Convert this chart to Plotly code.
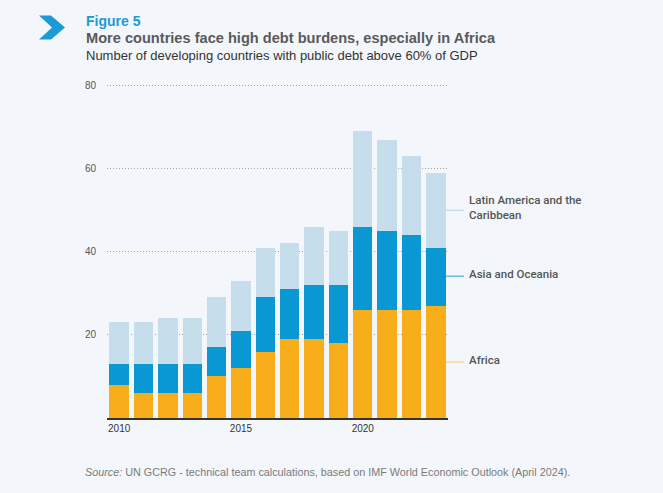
import plotly.graph_objects as go

years = list(range(2010, 2024))
africa = [8, 6, 6, 6, 10, 12, 16, 19, 19, 18, 26, 26, 26, 27]
asia_oceania = [5, 7, 7, 7, 7, 9, 13, 12, 13, 14, 20, 19, 18, 14]
latam_carib = [10, 10, 11, 11, 12, 12, 12, 11, 14, 13, 23, 22, 19, 18]

series_names = ["Africa", "Asia and Oceania", "Latin America and the<br>Caribbean"]
series_colors = ["#F8AE1B", "#0A98D5", "#C6DDEC"]
legend_line_colors = ["#F6D69C", "#6DBCE2", "#C6DDEC"]
y_ticks = [20, 40, 60, 80]
x_ticks = [2010, 2015, 2020]

W, H = 663, 493
L, R, B = 107, 448, 418
Y_TOP = 80.6
T = B - (B - 85) * Y_TOP / 80.0
BG = "#F3F7FB"

def px(x):
    return (x - L) / (R - L)

def py(y):
    return (B - y) / (B - T)

fig = go.Figure()
for vals, name, col in zip([africa, asia_oceania, latam_carib], series_names, series_colors):
    fig.add_trace(go.Bar(x=years, y=vals, name=name, marker=dict(color=col, line=dict(width=0)),
                         showlegend=False))

fig.update_layout(
    width=W, height=H,
    barmode="stack", bargap=0.2,
    paper_bgcolor=BG, plot_bgcolor=BG,
    margin=dict(l=L, r=W - R, t=T, b=H - B, pad=0),
    font=dict(family="Liberation Sans, Arial, sans-serif", color="#555555"),
    xaxis=dict(range=[2009.5, 2023.5], tickvals=x_ticks, ticktext=[str(v) for v in x_ticks],
               showgrid=False, showline=True, linecolor="#333333", linewidth=2,
               ticks="", tickfont=dict(size=10, color="#333333"), zeroline=False),
    yaxis=dict(range=[0, Y_TOP], tickvals=y_ticks, showgrid=True, gridcolor="#A3A3A3",
               griddash="1px,2px", gridwidth=1, zeroline=False, showline=False, ticks="",
               ticklabelstandoff=10, tickfont=dict(size=10, color="#555555")),
)

# Chevron icon
pts = [(39, 15), (51, 15), (65, 27), (51, 39), (39, 39), (52, 27)]
path = "M " + " L ".join(f"{px(a)},{py(b)}" for a, b in pts) + " Z"
fig.add_shape(type="path", path=path, xref="paper", yref="paper",
              fillcolor="#1B9AD6", line=dict(width=0), layer="above")

# Titles
fig.add_annotation(x=px(84), y=py(20), xref="paper", yref="paper", xanchor="left", yanchor="middle",
                   text="<b>Figure 5</b>", showarrow=False,
                   font=dict(size=14, color="#1B9AD6", family="Liberation Sans, Arial, sans-serif"))
fig.add_annotation(x=px(84), y=py(37), xref="paper", yref="paper", xanchor="left", yanchor="middle",
                   text="<b>More countries face high debt burdens, especially in Africa</b>", showarrow=False,
                   font=dict(size=14.6, color="#5A5A5C", family="Liberation Sans, Arial, sans-serif"))
fig.add_annotation(x=px(84), y=py(55), xref="paper", yref="paper", xanchor="left", yanchor="middle",
                   text="Number of developing countries with public debt above 60% of GDP", showarrow=False,
                   font=dict(size=13, color="#333333", family="Liberation Sans, Arial, sans-serif"))

# Source
fig.add_annotation(x=px(83), y=py(472), xref="paper", yref="paper", xanchor="left", yanchor="middle",
                   text="<i>Source:</i> UN GCRG - technical team calculations, based on IMF World Economic Outlook (April 2024).",
                   showarrow=False,
                   font=dict(size=10.8, color="#7A7A7A", family="Liberation Sans, Arial, sans-serif"))

# Direct labels
label_line_y = [362, 276, 210]
label_text_y = [360, 274, 207]
for name, lc, ly, ty in zip(series_names, legend_line_colors, label_line_y, label_text_y):
    fig.add_shape(type="line", xref="paper", yref="paper", x0=px(446), x1=px(464), y0=py(ly), y1=py(ly),
                  line=dict(color=lc, width=1.5))
    fig.add_annotation(x=px(467), y=py(ty), xref="paper", yref="paper", xanchor="left", yanchor="middle",
                       text=name, showarrow=False, align="left",
                       font=dict(size=11.5, color="#555555", family="Roboto, sans-serif", weight=500))

fig.write_html("out.html")
